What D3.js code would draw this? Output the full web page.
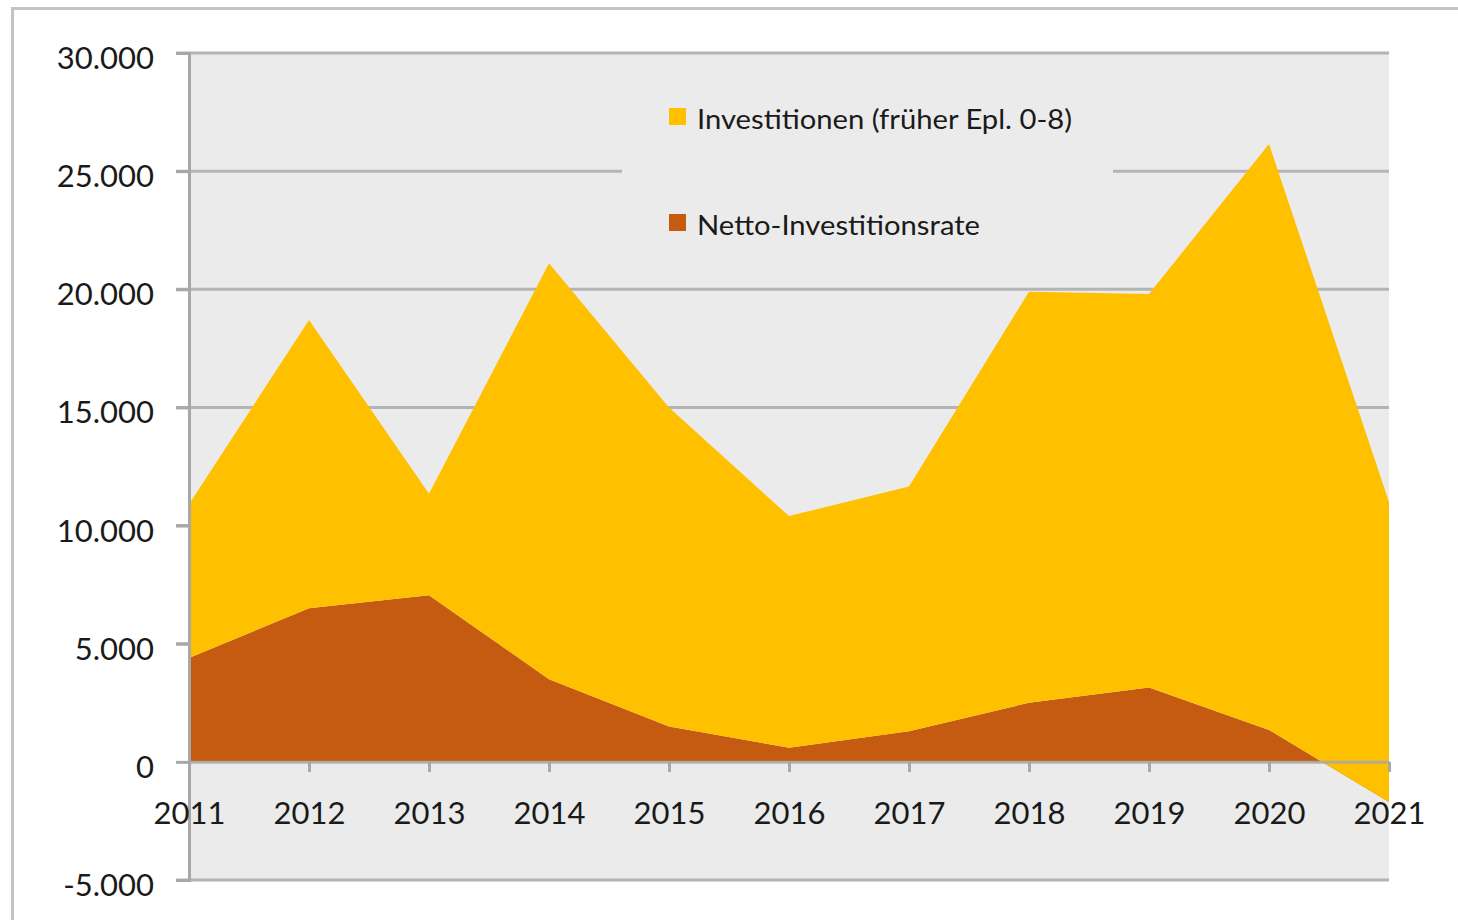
<!DOCTYPE html>
<html>
<head>
<meta charset="utf-8">
<script src="https://cdn.jsdelivr.net/npm/d3@7"></script>
<style>
  body { margin: 0; background: #fff; }
  svg { display: block; font-family: Lato, "Open Sans", sans-serif; }
</style>
</head>
<body>
<svg id="chart" width="1458" height="920"></svg>
<script>
const years = [2011, 2012, 2013, 2014, 2015, 2016, 2017, 2018, 2019, 2020, 2021];
// upper edge of the stacked yellow area
const investitionen = [10900, 18700, 11350, 21100, 15000, 10400, 11650, 19900, 19800, 26150, 11000];
const netto = [4400, 6500, 7050, 3500, 1500, 600, 1300, 2500, 3150, 1350, -1700];
const yTicks = [-5000, 0, 5000, 10000, 15000, 20000, 25000, 30000];
const seriesNames = ["Investitionen (früher Epl. 0-8)", "Netto-Investitionsrate"];
const colors = ["#FFC000", "#C55A11"];

const margin = { left: 189, right: 69, top: 53, bottom: 40 };
const width = 1458, height = 920;
const svg = d3.select("#chart");

const de = d3.formatLocale({ decimal: ",", thousands: ".", grouping: [3], currency: ["", "€"], minus: "-" });
const fmt = de.format(",.0f");

const x = d3.scalePoint().domain(years).range([margin.left, width - margin.right]);
const y = d3.scaleLinear().domain([-5000, 30000]).range([height - margin.bottom, margin.top]);

const data = years.map((yr, i) => ({ year: yr, top: investitionen[i], netto: netto[i] }));

// outer chart border
svg.append("path")
  .attr("d", `M12.5,${height + 5}V8.5H${width + 5}`)
  .attr("fill", "none").attr("stroke", "#c3c3c3").attr("stroke-width", 3);

// plot background
svg.append("rect")
  .attr("x", x(2011)).attr("y", y(30000))
  .attr("width", x(2021) - x(2011)).attr("height", y(-5000) - y(30000))
  .attr("fill", "#ebebeb");

// gridlines with tick stubs
svg.append("g").selectAll("line").data(yTicks.filter(d => d !== 0)).join("line")
  .attr("x1", x(2011) - 13).attr("x2", x(2021))
  .attr("y1", d => y(d)).attr("y2", d => y(d))
  .attr("stroke", "#b4b4b4").attr("stroke-width", 3);

// areas
svg.append("path").datum(data)
  .attr("fill", colors[1])
  .attr("d", d3.area().x(d => x(d.year)).y0(y(0)).y1(d => y(d.netto)));

svg.append("path").datum(data)
  .attr("fill", colors[0])
  .attr("d", d3.area().x(d => x(d.year)).y0(d => y(d.netto)).y1(d => y(d.top)));

// legend box (hides the gridline behind it)
const lg = svg.append("g");
lg.append("rect").attr("x", 622).attr("y", 75).attr("width", 491).attr("height", 190).attr("fill", "#ebebeb");
const legendRows = [{ y: 116, w: 375 }, { y: 222, w: 283 }];
legendRows.forEach((r, i) => {
  lg.append("rect").attr("x", 669).attr("y", r.y - 8).attr("width", 17).attr("height", 17).attr("fill", colors[i]);
  lg.append("text").attr("x", 697).attr("y", r.y + 13)
    .attr("font-size", 27).attr("fill", "#1a1a1a")
    .attr("textLength", r.w).attr("lengthAdjust", "spacingAndGlyphs")
    .text(seriesNames[i]);
});

// y axis
const yAxis = svg.append("g")
  .attr("transform", `translate(${x(2011)},0)`)
  .call(d3.axisLeft(y).tickValues(yTicks).tickFormat(fmt).tickSize(13).tickPadding(22));
yAxis.select(".domain").attr("stroke", "#a8a8a8").attr("stroke-width", 3);
yAxis.selectAll(".tick line").attr("stroke", "#a8a8a8").attr("stroke-width", 3);
yAxis.selectAll("text").attr("font-size", 31).attr("fill", "#1a1a1a").attr("font-family", "Lato, sans-serif")
  .attr("dy", "0.5em");

// x axis along zero
const xAxis = svg.append("g")
  .attr("transform", `translate(0,${y(0)})`)
  .call(d3.axisBottom(x).tickSize(10).tickPadding(30).tickSizeOuter(0));
xAxis.select(".domain").attr("stroke", "#a8a8a8").attr("stroke-width", 3).attr("stroke-opacity", 0.85);
xAxis.selectAll(".tick line").attr("stroke", "#a8a8a8").attr("stroke-width", 3);
xAxis.selectAll("text").attr("font-size", 31).attr("fill", "#1a1a1a").attr("font-family", "Lato, sans-serif");
</script>
</body>
</html>
